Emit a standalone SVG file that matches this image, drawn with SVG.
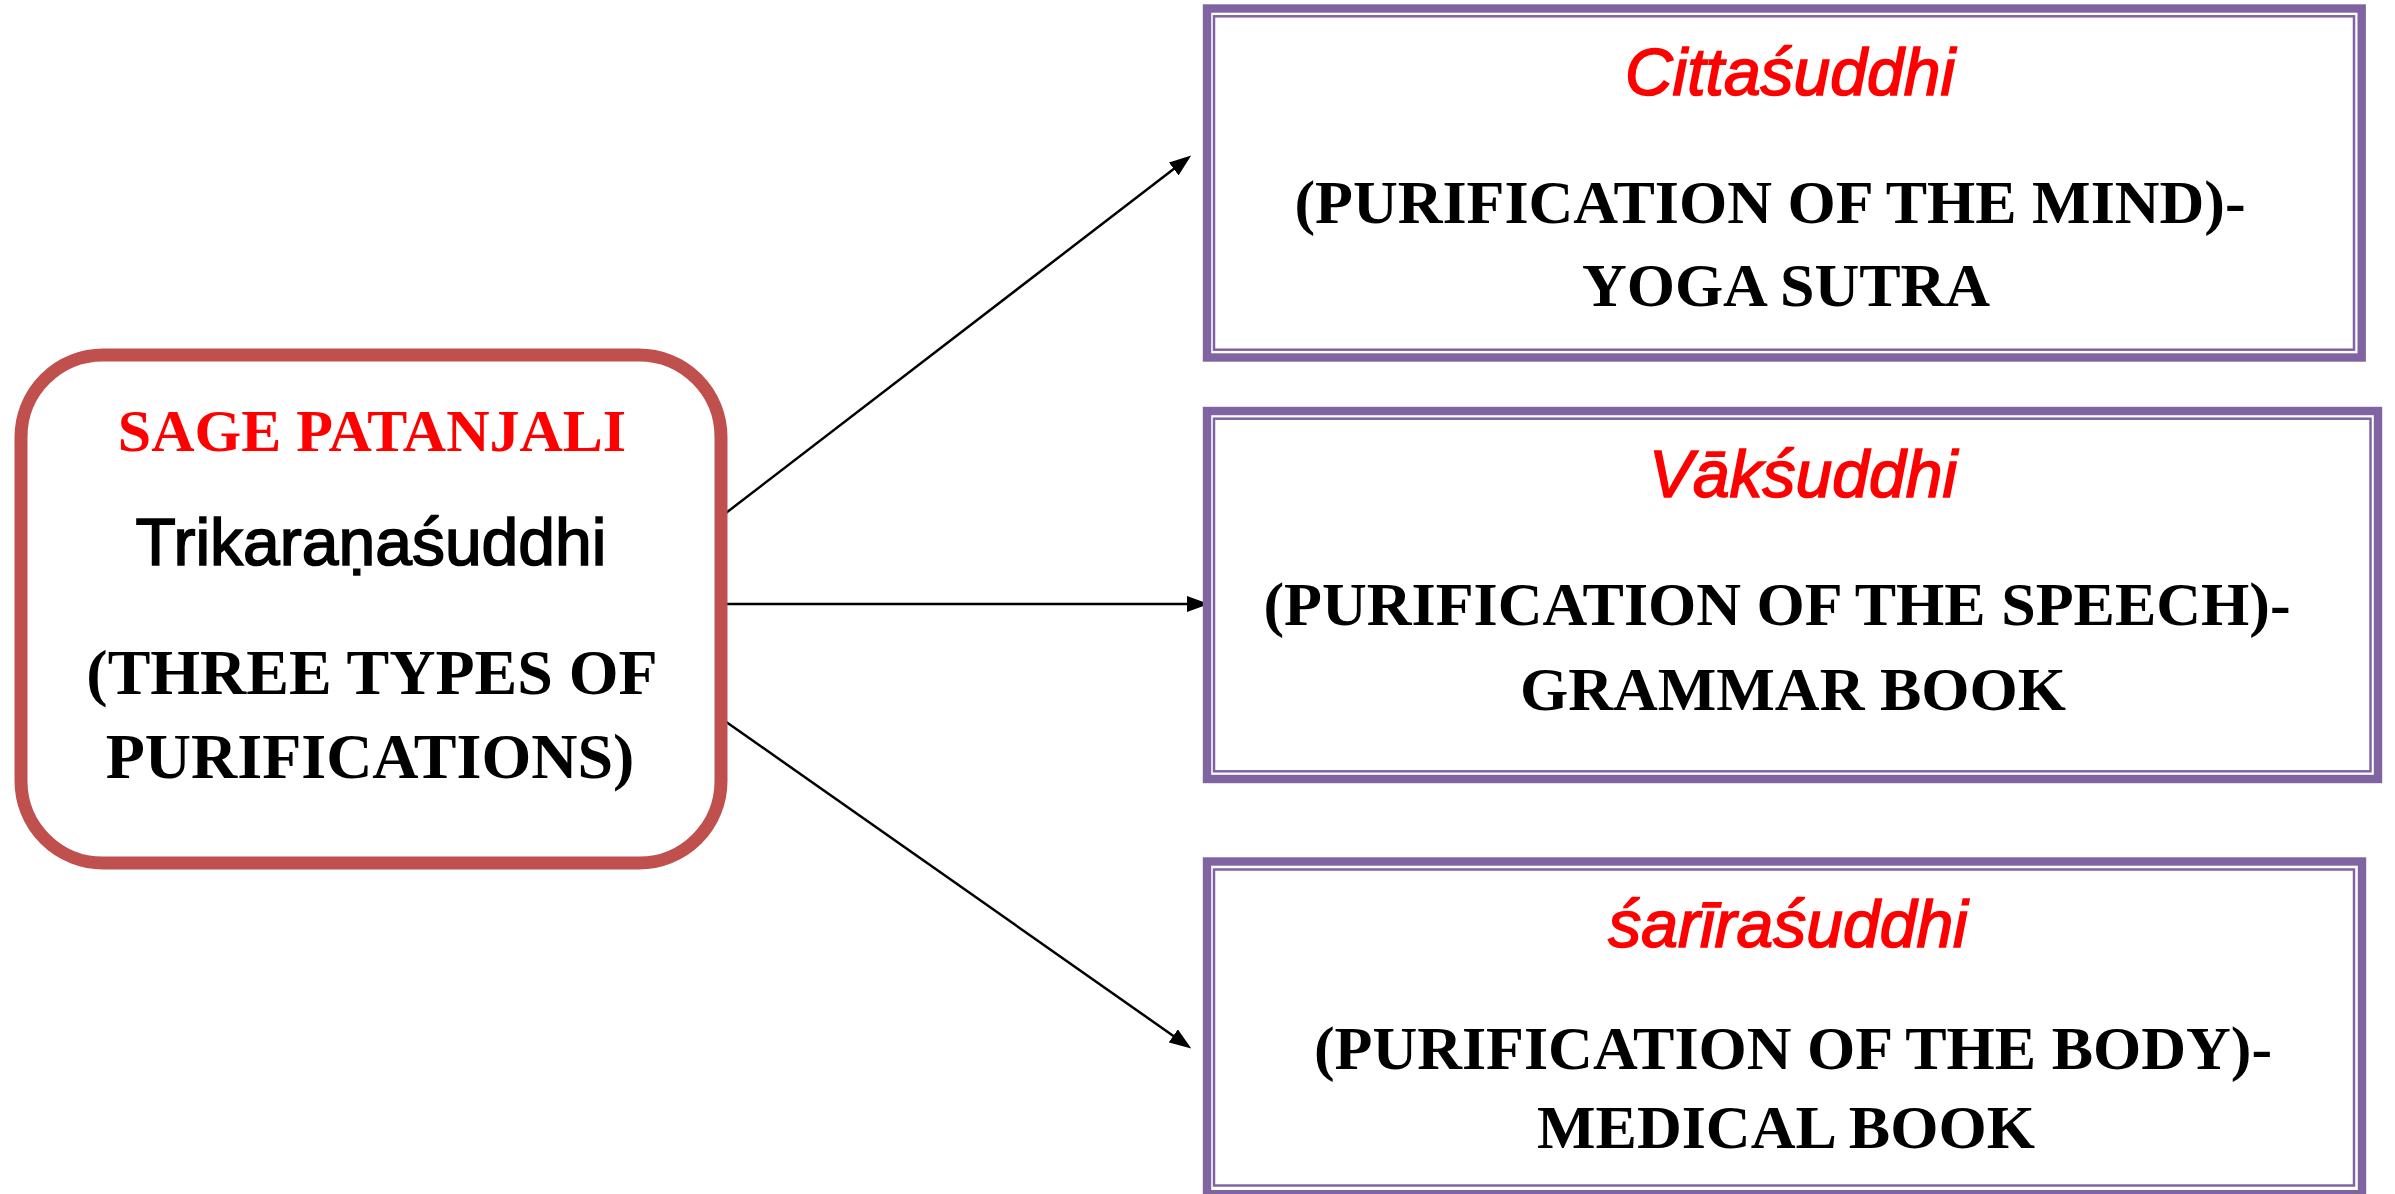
<svg xmlns="http://www.w3.org/2000/svg" width="2395" height="1194" viewBox="0 0 2395 1194">
  <style>
    .bg { fill: #ffffff; }
    .source { fill: #ffffff; stroke: #C0504D; stroke-width: 13; }
    .outer { fill: #ffffff; stroke: #8064A2; stroke-width: 8.4; }
    .inner { fill: none; stroke: #8064A2; stroke-width: 2.5; }
    .serif { font-family: "Liberation Serif", "Times New Roman", serif; font-weight: bold; text-anchor: middle; }
    .sans { font-family: "Liberation Sans", Arial, sans-serif; text-anchor: middle; stroke: #000000; stroke-width: 1.6; }
    .red { fill: #FF0000; }
    .black { fill: #000000; }
    .title { font-family: "Liberation Sans", Arial, sans-serif; font-style: italic; font-size: 66px; fill: #FF0000; stroke: #FF0000; stroke-width: 1.6; text-anchor: middle; }
    .body { font-family: "Liberation Serif", "Times New Roman", serif; font-weight: bold; font-size: 62px; fill: #000000; text-anchor: middle; }
    .link { stroke: #000000; stroke-width: 2.5; fill: none; marker-end: url(#head); }
  </style>
  <defs>
    <marker id="head" markerUnits="userSpaceOnUse" markerWidth="22" markerHeight="16" refX="18" refY="8" orient="auto">
      <path d="M0,0 L22,8 L0,16 z" fill="#000000"/>
    </marker>
  </defs>

  <rect class="bg" x="0" y="0" width="2395" height="1194"/>

  <!-- connectors from the source node to the three branches -->
  <g id="connectors">
    <line class="link" x1="722" y1="516" x2="1188.0" y2="158.0"/>
    <line class="link" x1="722" y1="604" x2="1205" y2="604"/>
    <line class="link" x1="722" y1="719" x2="1188.0" y2="1046.2"/>
  </g>

  <!-- source node -->
  <g id="node-trikarana">
    <rect class="source" x="21" y="355" width="700" height="508" rx="82" ry="82"/>
    <text class="serif red" x="372" y="451" font-size="60">SAGE PATANJALI</text>
    <text class="sans black" x="371" y="565" font-size="66">Trikaraṇaśuddhi</text>
    <text class="serif black" x="372" y="694" font-size="64">(THREE TYPES OF</text>
    <text class="serif black" x="370" y="778" font-size="64">PURIFICATIONS)</text>
  </g>

  <!-- branch: mind -->
  <g id="node-citta">
    <rect class="outer" x="1207" y="8.5" width="1154.7" height="349"/>
    <rect class="inner" x="1214" y="16.3" width="1140" height="333.4"/>
    <text class="title" x="1790" y="95">Cittaśuddhi</text>
    <text class="body" x="1770" y="223">(PURIFICATION OF THE MIND)-</text>
    <text class="body" x="1786" y="306" font-size="63">YOGA SUTRA</text>
  </g>

  <!-- branch: speech -->
  <g id="node-vak">
    <rect class="outer" x="1207" y="411" width="1171" height="368"/>
    <rect class="inner" x="1214" y="418.7" width="1156.5" height="352.6"/>
    <text class="title" x="1803" y="497">Vākśuddhi</text>
    <text class="body" x="1777" y="625">(PURIFICATION OF THE SPEECH)-</text>
    <text class="body" x="1793" y="710" font-size="64">GRAMMAR BOOK</text>
  </g>

  <!-- branch: body -->
  <g id="node-sarira">
    <rect class="outer" x="1207" y="861.5" width="1155" height="332.7"/>
    <rect class="inner" x="1214" y="869.5" width="1140" height="316"/>
    <text class="title" x="1788" y="947">śarīraśuddhi</text>
    <text class="body" x="1793" y="1069" font-size="61">(PURIFICATION OF THE BODY)-</text>
    <text class="body" x="1786" y="1148" font-size="59">MEDICAL BOOK</text>
  </g>
</svg>
